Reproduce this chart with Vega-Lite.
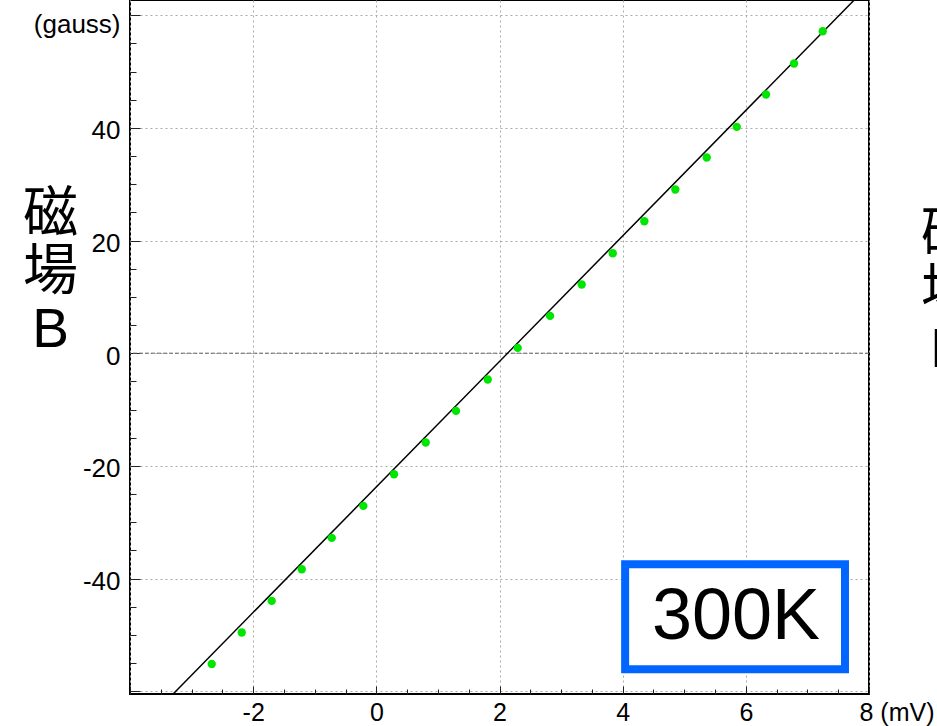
{
  "$schema": "https://vega.github.io/schema/vega-lite/v6.json",
  "width": 739,
  "height": 694,
  "autosize": {"type": "none"},
  "padding": {"left": 130, "top": 0, "right": 68, "bottom": 32},
  "background": "white",
  "config": {"view": {"stroke": "black", "strokeWidth": 2}, "font": "Liberation Sans"},
  "datasets": {
    "points": [
      {"V": -2.673, "B": -55.16}, {"V": -2.186, "B": -49.58}, {"V": -1.699, "B": -43.97},
      {"V": -1.211, "B": -38.35}, {"V": -0.724, "B": -32.79}, {"V": -0.211, "B": -27.11},
      {"V": 0.287, "B": -21.48}, {"V": 0.802, "B": -15.85}, {"V": 1.294, "B": -10.24},
      {"V": 1.809, "B": -4.67}, {"V": 2.296, "B": 0.94}, {"V": 2.821, "B": 6.62},
      {"V": 3.335, "B": 12.2}, {"V": 3.839, "B": 17.75}, {"V": 4.352, "B": 23.43},
      {"V": 4.855, "B": 29.06}, {"V": 5.365, "B": 34.74}, {"V": 5.853, "B": 40.17},
      {"V": 6.328, "B": 45.93}, {"V": 6.783, "B": 51.43}, {"V": 7.249, "B": 57.16}
    ],
    "fit": [{"V": -3.3, "B": -60.5}, {"V": 7.76, "B": 62.7}],
    "box": [{"V1": 4.04, "V2": 7.61, "B1": -56.1, "B2": -37.46, "Vc": 5.84, "Bc": -46.8, "label": "300K"}],
    "zero": [{"B": 0}]
  },
  "layer": [
    {
      "data": {"name": "zero"},
      "mark": {"type": "rule", "color": "#666", "strokeWidth": 1, "strokeDash": [4, 2]},
      "encoding": {
        "y": {"field": "B", "type": "quantitative", "scale": {"domain": [-60.5, 62.7], "nice": false, "zero": false}, "axis": null}
      }
    },
    {
      "data": {"name": "fit"},
      "mark": {"type": "line", "color": "black", "strokeWidth": 1.5},
      "encoding": {
        "x": {"field": "V", "type": "quantitative", "scale": {"domain": [-4, 8], "nice": false, "zero": false}, "axis": null},
        "y": {"field": "B", "type": "quantitative", "scale": {"domain": [-60.5, 62.7], "nice": false, "zero": false}, "axis": null}
      }
    },
    {
      "data": {"name": "points"},
      "mark": {"type": "circle", "size": 70, "color": "#00e600", "opacity": 1},
      "encoding": {
        "x": {
          "field": "V", "type": "quantitative",
          "scale": {"domain": [-4, 8], "nice": false, "zero": false},
          "axis": {
            "orient": "bottom",
            "values": [-4, -3.5, -3, -2.5, -2, -1.5, -1, -0.5, 0, 0.5, 1, 1.5, 2, 2.5, 3, 3.5, 4, 4.5, 5, 5.5, 6, 6.5, 7, 7.5, 8],
            "title": null,
            "domain": false,
            "labelExpr": "datum.value == 8 ? '8 (mV)' : ((datum.value % 2 == 0 && datum.value != -4) ? '' + datum.value : '')",
            "labelFontSize": 25,
            "labelColor": "black",
            "labelOverlap": false,
            "labelFlush": false,
            "labelBound": false,
            "labelPadding": 14,
            "labelBaseline": "top",
            "labelAlign": {"condition": {"test": "datum.value == 8", "value": "left"}, "value": "center"},
            "labelOffset": {"condition": {"test": "datum.value == 8", "value": -10}, "value": 0},
            "tickSize": {"condition": {"test": "datum.value % 2 == 0", "value": -8}, "value": -5},
            "tickColor": "#222",
            "grid": true,
            "gridColor": "#aaa",
            "gridDash": [2, 3],
            "gridOpacity": {"condition": {"test": "datum.value % 2 == 0", "value": 1}, "value": 0}
          }
        },
        "y": {
          "field": "B", "type": "quantitative",
          "scale": {"domain": [-60.5, 62.7], "nice": false, "zero": false},
          "axis": {
            "orient": "left",
            "values": [-60, -55, -50, -45, -40, -35, -30, -25, -20, -15, -10, -5, 0, 5, 10, 15, 20, 25, 30, 35, 40, 45, 50, 55, 60],
            "domain": false,
            "labelExpr": "datum.value == 60 ? '(gauss)' : ((datum.value % 20 == 0 && datum.value != -60) ? '' + datum.value : '')",
            "labelFontSize": 26,
            "labelColor": "black",
            "labelOverlap": false,
            "labelFlush": false,
            "labelBound": false,
            "labelPadding": 20,
            "labelOffset": {"condition": {"test": "datum.value == 60", "value": 9}, "value": 3},
            "tickSize": {"condition": {"test": "datum.value % 20 == 0", "value": -10}, "value": -6},
            "tickColor": "#222",
            "grid": true,
            "gridColor": "#aaa",
            "gridDash": [2, 3],
            "gridOpacity": {"condition": {"test": "datum.value % 20 == 0", "value": 1}, "value": 0},
            "title": ["磁", "場", "B"],
            "titleFont": "Liberation Sans, Noto Sans CJK JP",
            "titleFontSize": 55,
            "titleFontWeight": "normal",
            "titleColor": "black",
            "titleAngle": 0,
            "titleAlign": "center",
            "titleBaseline": "alphabetic",
            "titleLineHeight": 58,
            "titleX": -80,
            "titleY": 230
          }
        }
      }
    },
    {
      "data": {"name": "box"},
      "mark": {"type": "rect", "fill": "white", "stroke": "#0066ff", "strokeWidth": 8},
      "encoding": {
        "x": {"field": "V1", "type": "quantitative", "scale": {"domain": [-4, 8], "nice": false, "zero": false}, "axis": null},
        "x2": {"field": "V2"},
        "y": {
          "field": "B1", "type": "quantitative",
          "scale": {"domain": [-60.5, 62.7], "nice": false, "zero": false},
          "axis": {
            "orient": "right",
            "labels": false, "ticks": false, "domain": false, "grid": false,
            "title": ["磁", "場", "B"],
            "titleFont": "Liberation Sans, Noto Sans CJK JP",
            "titleFontSize": 55,
            "titleFontWeight": "normal",
            "titleColor": "black",
            "titleAngle": 0,
            "titleAlign": "center",
            "titleBaseline": "alphabetic",
            "titleLineHeight": 58,
            "titleX": 79,
            "titleY": 250
          }
        },
        "y2": {"field": "B2"}
      }
    },
    {
      "data": {"name": "box"},
      "mark": {"type": "text", "fontSize": 72, "font": "Liberation Sans", "color": "black", "align": "center", "baseline": "middle"},
      "encoding": {
        "x": {"field": "Vc", "type": "quantitative", "scale": {"domain": [-4, 8], "nice": false, "zero": false}, "axis": null},
        "y": {"field": "Bc", "type": "quantitative", "scale": {"domain": [-60.5, 62.7], "nice": false, "zero": false}, "axis": null},
        "text": {"field": "label"}
      }
    }
  ],
  "resolve": {"axis": {"x": "independent", "y": "independent"}}
}
